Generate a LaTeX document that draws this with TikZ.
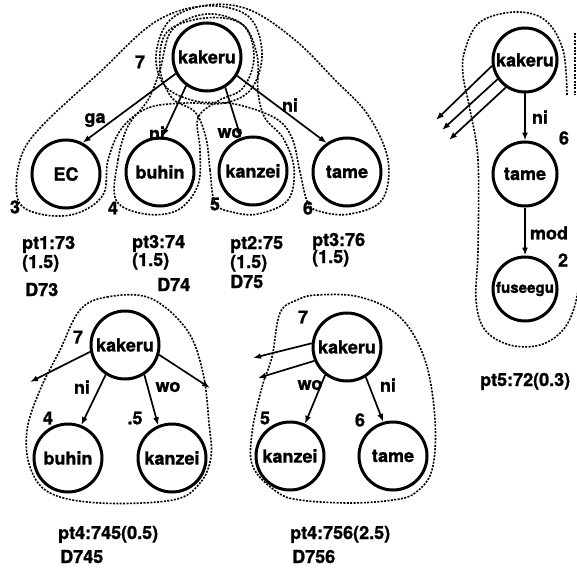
\documentclass[tikz,border=0pt]{standalone}
\usepackage{fontspec}
\setmainfont{TeX Gyre Heros}[BoldFeatures={FakeBold=1.3}]
\usetikzlibrary{arrows.meta}
\begin{document}
\begin{tikzpicture}[x=1pt,y=-1pt,
  every node/.style={font=\fontsize{18}{19}\selectfont\bfseries, inner sep=0pt},
  word/.style={circle, draw, line width=3pt, minimum size=68pt},
  arr/.style={line width=1.7pt, -{Latex[length=8pt,width=6pt]}},
  dotline/.style={line width=1.6pt, dash pattern=on 2pt off 1.4pt},
  txt/.style={anchor=base west}]
\useasboundingbox (0,0) rectangle (577,575);

% ---------- upper tree ----------
\node[word] (k1)  at (207,57)  {kakeru};
\node[word] (ec)  at (66,174)  {EC};
\node[word] (bu1) at (160,172) {buhin};
\node[word] (ka1) at (253,171) {kanzei};
\node[word] (ta1) at (347,172) {tame};

\draw[arr] (k1.208) -- (ec.62);
\draw[arr] (k1.234) -- (bu1.86);
\draw[arr] (k1.301) -- (ka1.110);
\draw[arr] (k1.328) -- (ta1.125);

\node (l7a) at (140,62)  {7};
\node (lga) at (95,120)  {ga};
\node (lni1) at (157,133) {ni};
\node (lwo1) at (230,133) {wo};
\node (lni2) at (290,105) {ni};
\node (n3) at (15,207)  {3};
\node (n4) at (113,208) {4};
\node (n5) at (215,204) {5};
\node (n6) at (308,208) {6};

% hulls joining the head word with each dependent
\draw[dotline] plot[smooth cycle, tension=0.6] coordinates {
  (18,200) (20,160) (40,128) (100,72) (155,22) (205,6) (248,16) (262,52)
  (252,88) (225,103) (185,103) (148,108) (122,128) (108,160) (103,195)
  (75,214) (40,214)};
\draw[dotline] plot[smooth cycle, tension=0.6] coordinates {
  (116,200) (118,160) (128,126) (148,100) (160,70) (172,30) (207,14)
  (243,25) (254,57) (243,88) (218,101) (198,118) (200,150) (198,185)
  (178,210) (145,214)};
\draw[dotline] plot[smooth cycle, tension=0.6] coordinates {
  (215,203) (210,170) (206,138) (195,112) (172,98) (160,68) (167,32)
  (205,18) (242,24) (257,55) (258,92) (265,118) (283,138) (294,168)
  (288,200) (258,214) (232,212)};
\draw[dotline] plot[smooth cycle, tension=0.6] coordinates {
  (308,203) (300,172) (292,138) (275,118) (235,104) (195,101) (165,86)
  (156,55) (170,20) (208,5) (250,10) (295,40) (335,80) (368,115)
  (388,160) (382,200) (350,214) (322,212)};

\node[txt] (p73)  at (22,249)  {pt1:73};
\node[txt] (w73)  at (22,268)  {(1.5)};
\node[txt] (d73)  at (25,296)  {D73};
\node[txt] (p74)  at (132,248) {pt3:74};
\node[txt] (w74)  at (132,266) {(1.5)};
\node[txt] (d74)  at (157,291) {D74};
\node[txt] (p75)  at (230,249) {pt2:75};
\node[txt] (w75)  at (230,268) {(1.5)};
\node[txt] (d75)  at (230,288) {D75};
\node[txt] (p76)  at (312,246) {pt3:76};
\node[txt] (w76)  at (312,263) {(1.5)};

% ---------- right-hand chain ----------
\node[word, minimum size=64pt] (k2) at (525,60)  {kakeru};
\node[word, minimum size=64pt] (t2) at (525,174) {tame};
\node[word, minimum size=64pt] (f2) at (525,289) {\resizebox{58pt}{!}{fuseegu}};

\draw[arr] (k2) -- (t2);
\draw[arr] (t2) -- (f2);
\coordinate (e1) at (436,120);
\coordinate (e2) at (442,130);
\coordinate (e3) at (449,140);
\draw[arr] (k2.190) -- (e1);
\draw[arr] (k2.215) -- (e2);
\draw[arr] (k2.235) -- (e3);

\node (rni) at (540,117) {ni};
\node (r6)  at (564,138) {6};
\node (rmod) at (549,233) {mod};
\node (r2)  at (563,260) {2};

\begin{scope}
\clip (0,0) rectangle (577,575);
\draw[dotline] plot[smooth, tension=0.6] coordinates {
  (567,95) (563,50) (545,20) (515,12) (480,22) (465,50) (463,75)
  (470,110) (478,160) (478,250) (476,300) (485,330) (510,345)
  (540,345) (563,330) (575,305) (581,270)};
\draw[dotline] (575,33) -- (575,95);
\end{scope}

\node[txt] (p72) at (480,386) {pt5:72(0.3)};

% ---------- lower left tree ----------
\node[word] (k3)  at (125,345) {kakeru};
\node[word] (bu3) at (68,458)  {buhin};
\node[word] (ka3) at (172,458) {kanzei};

\draw[arr] (k3.237) -- (bu3.68);
\draw[arr] (k3.303) -- (ka3.113);
\coordinate (e4) at (30,382);
\coordinate (e5) at (210,388);
\draw[arr] (k3.191) -- (e4);
\draw[arr] (k3.344) -- (e5);

\node (b7) at (78,337)  {7};
\node (bni) at (82,387) {ni};
\node (bwo) at (168,387) {wo};
\node (b4) at (48,418)  {4};
\node (b5) at (135,418) {.5};

\draw[dotline] plot[smooth cycle, tension=0.6] coordinates {
  (80,310) (107,297) (150,298) (187,330) (203,373) (209,423) (211,457)
  (200,483) (173,500) (100,503) (50,493) (30,467) (27,430) (40,390)
  (60,350)};

\node[txt] (p745) at (58,539) {pt4:745(0.5)};
\node[txt] (d745) at (60,563) {D745};

% ---------- lower right tree ----------
\node[word] (k4)  at (347,347) {kakeru};
\node[word] (ka4) at (290,456) {kanzei};
\node[word] (ta4) at (393,456) {tame};

\draw[arr] (k4.232) -- (ka4.65);
\draw[arr] (k4.302) -- (ta4.106);
\coordinate (e6) at (253,358);
\coordinate (e7) at (258,378);
\draw[arr] (k4.174) -- (e6);
\draw[arr] (k4.203) -- (e7);

\node (c7) at (303,317)  {7};
\node (cwo) at (310,385) {wo};
\node (cni) at (388,385) {ni};
\node (c5) at (265,418)  {5};
\node (c6) at (360,420)  {6};

\draw[dotline] plot[smooth cycle, tension=0.6] coordinates {
  (297,300) (317,295) (360,297) (400,317) (425,360) (435,420) (432,470)
  (415,493) (393,500) (350,503) (300,500) (277,492) (253,467) (252,433)
  (262,387) (272,357) (280,313)};

\node[txt] (p756) at (290,539) {pt4:756(2.5)};
\node[txt] (d756) at (292,563) {D756};
\end{tikzpicture}
\end{document}
